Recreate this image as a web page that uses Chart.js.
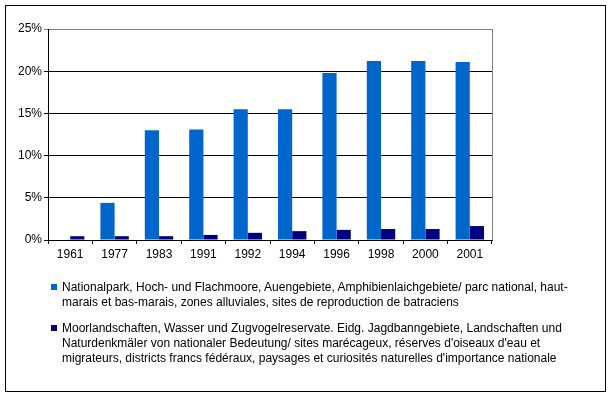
<!DOCTYPE html>
<html lang="de">
<head>
    <meta charset="UTF-8">
    <title>Schutzgebiete</title>
    <script src="https://cdn.jsdelivr.net/npm/chart.js"></script>
    <style>
        body {
            margin: 0;
            background: #fff;
            font-family: "Liberation Sans", Arial, sans-serif;
        }

        #frame {
            position: absolute;
            left: 5px;
            top: 5px;
            width: 599px;
            height: 385px;
            border: 1px solid #000;
        }

        #chartBox {
            position: absolute;
            left: 0;
            top: 0;
            width: 611px;
            height: 396px;
        }

        .legend {
            position: absolute;
            left: 51px;
            font-size: 12px;
            line-height: 15px;
            white-space: nowrap;
            color: #000;
        }

        .legend span.box {
            position: absolute;
            left: 0;
            top: 4px;
            width: 6px;
            height: 6px;
        }

        .legend div.txt {
            margin-left: 11px;
        }
    </style>
</head>
<body>
    <div id="frame"></div>
    <div id="chartBox"><canvas id="schutzChart"></canvas></div>

    <div class="legend" style="top: 280px;">
        <span class="box" style="background: #0066CC;"></span>
        <div class="txt">Nationalpark, Hoch- und Flachmoore, Auengebiete, Amphibienlaichgebiete/ parc national, haut-<br>marais et bas-marais, zones alluviales, sites de reproduction de batraciens</div>
    </div>

    <div class="legend" style="top: 321px;">
        <span class="box" style="background: #000080;"></span>
        <div class="txt">Moorlandschaften, Wasser und Zugvogelreservate. Eidg. Jagdbanngebiete, Landschaften und<br>Naturdenkmäler von nationaler Bedeutung/ sites marécageux, réserves d'oiseaux d'eau et<br>migrateurs, districts francs fédéraux, paysages et curiosités naturelles d'importance nationale</div>
    </div>

    <script>
        const years = ['1961', '1977', '1983', '1991', '1992', '1994', '1996', '1998', '2000', '2001'];
        const nationalpark = [0, 4.4, 13.0, 13.1, 15.5, 15.5, 19.8, 21.2, 21.2, 21.1];
        const moorlandschaften = [0.45, 0.45, 0.45, 0.6, 0.85, 1.05, 1.2, 1.3, 1.3, 1.65];
        const yTicks = [0, 5, 10, 15, 20, 25];

        // gray border on the right side of the plot area
        const plotBorder = {
            id: 'plotBorder',
            beforeDatasetsDraw(chart) {
                const { ctx, chartArea } = chart;
                ctx.save();
                ctx.strokeStyle = '#808080';
                ctx.lineWidth = 1;
                ctx.beginPath();
                ctx.moveTo(chartArea.right + 0.5, chartArea.top);
                ctx.lineTo(chartArea.right + 0.5, chartArea.bottom);
                ctx.stroke();
                ctx.restore();
            }
        };

        const ctx = document.getElementById('schutzChart').getContext('2d');
        const schutzChart = new Chart(ctx, {
            type: 'bar',
            data: {
                labels: years,
                datasets: [
                    {
                        label: 'Nationalpark',
                        data: nationalpark,
                        backgroundColor: '#0066CC',
                        categoryPercentage: 0.64,
                        barPercentage: 1.0
                    },
                    {
                        label: 'Moorlandschaften',
                        data: moorlandschaften,
                        backgroundColor: '#000080',
                        categoryPercentage: 0.64,
                        barPercentage: 1.0
                    }
                ]
            },
            options: {
                responsive: true,
                maintainAspectRatio: false,
                animation: false,
                layout: {
                    padding: { left: 5, top: 29, right: 119, bottom: 126 }
                },
                plugins: {
                    legend: { display: false },
                    tooltip: { enabled: false }
                },
                scales: {
                    x: {
                        grid: {
                            offset: true,
                            drawOnChartArea: false,
                            drawTicks: true,
                            tickLength: 4,
                            color: '#000'
                        },
                        border: { color: '#000' },
                        ticks: {
                            color: '#000',
                            font: { family: 'Liberation Sans', size: 12 },
                            padding: 3,
                            maxRotation: 0
                        },
                        afterFit(scale) {
                            scale.height = 30;
                            scale.paddingLeft = 0;
                            scale.paddingRight = 0;
                        }
                    },
                    y: {
                        min: 0,
                        max: 25,
                        afterBuildTicks(scale) {
                            scale.ticks = yTicks.map(v => ({ value: v }));
                        },
                        grid: {
                            color: c => (c.tick && c.tick.value === 25) ? '#808080' : '#000',
                            tickLength: 4
                        },
                        border: { color: '#000' },
                        ticks: {
                            color: '#000',
                            font: { family: 'Liberation Sans', size: 12 },
                            padding: 2,
                            callback: v => v + '%'
                        },
                        afterFit(scale) {
                            scale.width = 43;
                            scale.paddingTop = 0;
                            scale.paddingBottom = 0;
                        }
                    }
                }
            },
            plugins: [plotBorder]
        });
    </script>
</body>
</html>
